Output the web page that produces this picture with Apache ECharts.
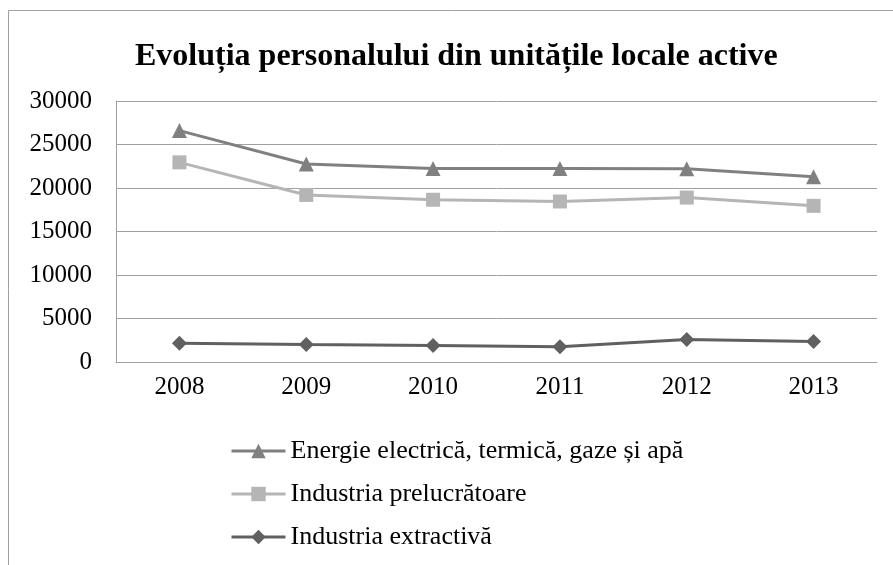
<!DOCTYPE html>
<html>
<head>
<meta charset="utf-8">
<script src="https://cdn.jsdelivr.net/npm/echarts@6/dist/echarts.min.js"></script>
<style>
  html, body { margin: 0; padding: 0; background: #fff; }
  #chart { width: 893px; height: 565px; }
</style>
</head>
<body>
<div id="chart"></div>
<script>
const years = ['2008', '2009', '2010', '2011', '2012', '2013']
const energie = [26600, 22750, 22250, 22250, 22200, 21300]
const prelucratoare = [22950, 19200, 18650, 18450, 18900, 17950]
const extractiva = [2150, 2000, 1900, 1750, 2600, 2350]

const serif = 'Liberation Serif'
let chart = echarts.init(document.getElementById('chart'))

function lineSeries(name, data, color, symbol, size) {
  return {
    name: name,
    type: 'line',
    data: data,
    symbol: symbol,
    symbolSize: size,
    color: color,
    lineStyle: { width: 3, color: color },
    itemStyle: { color: color },
  }
}

let option = {
  animation: false,
  textStyle: { fontFamily: serif },
  graphic: [
    {
      type: 'rect',
      shape: { x: 8.5, y: 10.5, width: 1000, height: 1000 },
      style: { fill: 'none', stroke: '#a0a0a0', lineWidth: 1 },
      silent: true,
    },
  ],
  title: {
    text: 'Evoluția personalului din unitățile locale active',
    left: 130,
    top: 36,
    textStyle: {
      fontFamily: serif,
      fontWeight: 'bold',
      fontSize: 32,
      color: '#000',
    },
  },
  grid: {
    left: 116,
    right: 16,
    top: 101,
    bottom: 203,
  },
  legend: {
    orient: 'vertical',
    left: 225,
    top: 433,
    itemGap: 17,
    itemWidth: 54,
    itemHeight: 18,
    lineStyle: { width: 3 },
    textStyle: {
      fontFamily: serif,
      fontSize: 26,
      color: '#000',
    },
    data: [
      'Energie electrică, termică, gaze și apă',
      'Industria prelucrătoare',
      'Industria extractivă',
    ],
  },
  xAxis: {
    type: 'category',
    data: years,
    boundaryGap: true,
    axisLine: { lineStyle: { color: '#a0a0a0', width: 1 } },
    axisTick: { show: false },
    axisLabel: { fontFamily: serif, fontSize: 25, color: '#000', margin: 13 },
  },
  yAxis: {
    type: 'value',
    min: 0,
    max: 30000,
    interval: 5000,
    axisLine: { show: true, lineStyle: { color: '#a0a0a0', width: 1 } },
    axisTick: { show: false },
    splitLine: { lineStyle: { color: '#a0a0a0', width: 1 } },
    axisLabel: {
      fontFamily: serif,
      fontSize: 25,
      color: '#000',
      margin: 24,
      formatter: (v) => String(v),
    },
  },
  series: [
    lineSeries('Energie electrică, termică, gaze și apă', energie, '#808080', 'triangle', 15),
    lineSeries('Industria prelucrătoare', prelucratoare, '#b5b5b5', 'rect', 14),
    lineSeries('Industria extractivă', extractiva, '#606060', 'diamond', 15),
  ],
}
chart.setOption(option)
</script>
</body>
</html>
